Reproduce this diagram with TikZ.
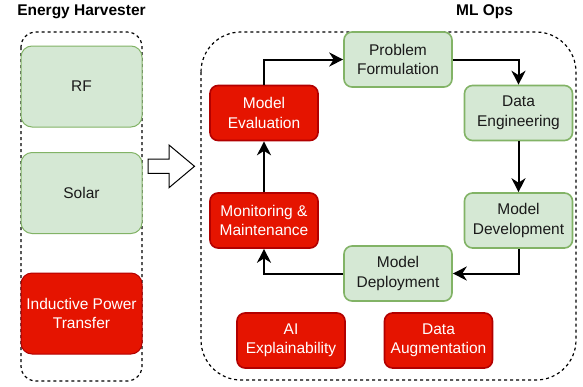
\documentclass[tikz,border=0pt]{standalone}
\usepackage{fontspec}
\setmainfont{Liberation Sans}
\usetikzlibrary{arrows.meta,positioning}
\definecolor{gfill}{HTML}{D5E8D4}
\definecolor{gline}{HTML}{82B366}
\definecolor{rfill}{HTML}{E51400}
\definecolor{rline}{HTML}{B20000}
\definecolor{gtext}{HTML}{1A1A1A}
\tikzset{
  txt/.style={font=\fontsize{15.5}{19.5}\selectfont, align=center, inner sep=0pt},
  greenbox/.style={txt, rounded corners=8pt, draw=gline, fill=gfill, line width=1.6pt, text=gtext, minimum width=108pt, minimum height=55pt},
  redbox/.style={txt, rounded corners=8pt, draw=rline, fill=rfill, line width=1.6pt, text=white, minimum width=108pt, minimum height=55pt},
  biggreen/.style={greenbox, rounded corners=11pt, line width=1pt, minimum width=121pt, minimum height=81pt},
  bigred/.style={redbox, rounded corners=11pt, line width=1pt, minimum width=121pt, minimum height=81pt},
  group/.style={draw=black, line width=1.2pt, dash pattern=on 3pt off 3pt},
  flow/.style={draw=black, line width=2pt, -{Stealth[length=14pt,width=14pt,inset=4.5pt]}},
  title/.style={txt, font=\fontsize{15.5}{19.5}\selectfont\bfseries}
}
\begin{document}
\begin{tikzpicture}[x=1pt,y=-1pt]
\useasboundingbox (0,0) rectangle (583,386);
% group frames
\draw[group, rounded corners=15pt] (21,32) rectangle (142,381);
\draw[group, rounded corners=40pt] (201,32) rectangle (576,380);
% titles
\node[title] (t1) at (81.5,12) {Energy Harvester};
\node[title] (t2) at (484.5,12) {ML Ops};
% energy harvester
\node[biggreen] (rf) at (81.5,86.5) {RF};
\node[biggreen] (solar) at (81.5,193) {Solar};
\node[bigred] (ipt) at (81.5,313.5) {Inductive Power\\Transfer};
% hollow arrow
\draw[line width=1pt, fill=white, line join=miter]
  (148,159) -- (169,159) -- (169,145) -- (194.5,166.3) -- (169,187.7) -- (169,173.3) -- (148,173.3) -- cycle;
% ML ops
\node[greenbox] (pf) at (398,59.5) {Problem\\Formulation};
\node[greenbox] (de) at (518.5,113) {Data\\Engineering};
\node[greenbox] (mdev) at (518.5,220.5) {Model\\Development};
\node[greenbox] (mdep) at (398,273.5) {Model\\Deployment};
\node[redbox] (mon) at (264,220.5) {Monitoring \&\\Maintenance};
\node[redbox] (eval) at (264,113) {Model\\Evaluation};
\node[redbox] (ai) at (291,340.5) {AI\\Explainability};
\node[redbox] (aug) at (438.5,340.5) {Data\\Augmentation};
% connectors
\draw[flow] (eval.north) |- (pf.west);
\draw[flow] (pf.east) -| (de.north);
\draw[flow] (de.south) -- (mdev.north);
\draw[flow] (mdev.south) |- (mdep.east);
\draw[flow] (mdep.west) -| (mon.south);
\draw[flow] (mon.north) -- (eval.south);
\end{tikzpicture}
\end{document}
